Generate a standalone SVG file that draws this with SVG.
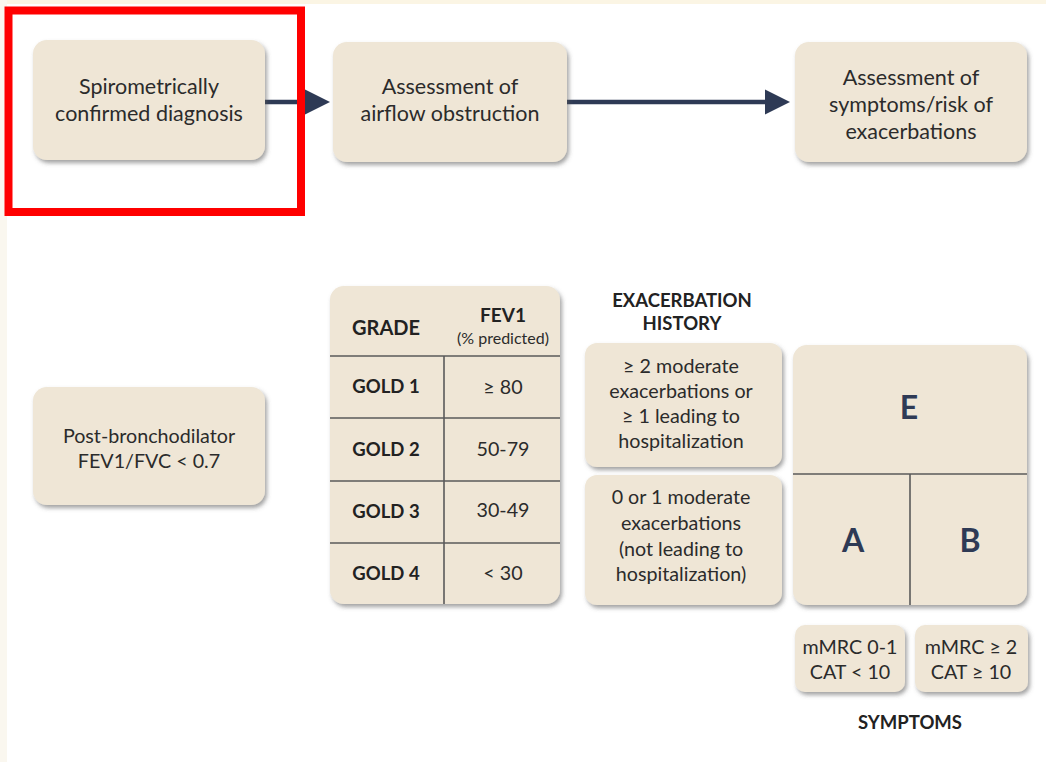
<svg xmlns="http://www.w3.org/2000/svg" width="1046" height="762" viewBox="0 0 1046 762">
<defs>
<filter id="sh" x="-10%" y="-10%" width="125%" height="130%">
<feDropShadow dx="2" dy="3" stdDeviation="2" flood-color="#555" flood-opacity="0.55"/>
</filter>
<marker id="ah" viewBox="0 0 10 10" refX="0" refY="5" markerUnits="userSpaceOnUse" markerWidth="25" markerHeight="44" orient="auto">
<path d="M0,0 L10,5 L0,10 Z" fill="#2e3a55"/>
</marker>
</defs>
<style>
.box{fill:#efe6d6;filter:url(#sh)}
.t{font-family:Lato,"Liberation Sans",sans-serif;font-size:21.5px;fill:#2b2b2b;text-anchor:middle}
.m{font-size:19.7px}
.b{font-family:Lato,"Liberation Sans",sans-serif;font-size:18.5px;font-weight:bold;fill:#222;text-anchor:middle}
.big{font-family:Lato,"Liberation Sans",sans-serif;font-size:32px;font-weight:bold;fill:#2e3a55;text-anchor:middle}
.div{stroke:#5a5a5a;stroke-width:1.6;fill:none}
.con{stroke:#2e3a55;stroke-width:4.5;fill:none}
</style>
<rect width="1046" height="762" fill="#ffffff"/>
<rect x="0" y="0" width="1046" height="4" fill="#fbf5e4"/>
<rect x="0" y="0" width="7" height="762" fill="#faf7ef"/>

<g id="connectors">
<line class="con" x1="265" y1="102" x2="305" y2="102" marker-end="url(#ah)"/>
<line class="con" x1="567" y1="102" x2="765" y2="102" marker-end="url(#ah)"/>
</g>

<g id="n1">
<rect class="box" x="33" y="40" width="232" height="120" rx="14"/>
<text class="t" x="149" y="94">Spirometrically</text>
<text class="t" x="149" y="121">confirmed diagnosis</text>
</g>
<g id="n2">
<rect class="box" x="333" y="42" width="234" height="120" rx="14"/>
<text class="t" x="450" y="94">Assessment of</text>
<text class="t" x="450" y="121">airflow obstruction</text>
</g>
<g id="n3">
<rect class="box" x="795" y="42" width="232" height="120" rx="14"/>
<text class="t" x="911" y="85">Assessment of</text>
<text class="t" x="911" y="112">symptoms/risk of</text>
<text class="t" x="911" y="139">exacerbations</text>
</g>

<g id="post">
<rect class="box" x="33" y="387" width="232" height="118" rx="14"/>
<text class="t m" x="149" y="443">Post-bronchodilator</text>
<text class="t m" x="149" y="468">FEV1/FVC &lt; 0.7</text>
</g>

<g id="table">
<rect class="box" x="330" y="286" width="230" height="318" rx="14"/>
<line class="div" x1="330" y1="356" x2="560" y2="356"/>
<line class="div" x1="330" y1="418" x2="560" y2="418"/>
<line class="div" x1="330" y1="481" x2="560" y2="481"/>
<line class="div" x1="330" y1="543" x2="560" y2="543"/>
<line class="div" x1="444" y1="356" x2="444" y2="604"/>
<text class="b" x="386" y="335" style="font-size:20px">GRADE</text>
<text class="b" x="503" y="322" style="font-size:19px">FEV1</text>
<text class="t" x="503" y="344" style="font-size:16px">(% predicted)</text>
<text class="b" x="386" y="393">GOLD 1</text>
<text class="t m" x="503" y="394">≥ 80</text>
<text class="b" x="386" y="456">GOLD 2</text>
<text class="t m" x="503" y="456">50-79</text>
<text class="b" x="386" y="518">GOLD 3</text>
<text class="t m" x="503" y="517">30-49</text>
<text class="b" x="386" y="580">GOLD 4</text>
<text class="t m" x="503" y="580">&lt; 30</text>
</g>

<g id="exhist">
<text class="b" x="682" y="307">EXACERBATION</text>
<text class="b" x="682" y="330">HISTORY</text>
</g>
<g id="ex1">
<rect class="box" x="585" y="343" width="197" height="124" rx="12"/>
<text class="t m" x="681" y="373">≥ 2 moderate</text>
<text class="t m" x="681" y="398">exacerbations or</text>
<text class="t m" x="681" y="423">≥ 1 leading to</text>
<text class="t m" x="681" y="448">hospitalization</text>
</g>
<g id="ex2">
<rect class="box" x="585" y="475" width="197" height="130" rx="12"/>
<text class="t m" x="681" y="504">0 or 1 moderate</text>
<text class="t m" x="681" y="530">exacerbations</text>
<text class="t m" x="681" y="556">(not leading to</text>
<text class="t m" x="681" y="581">hospitalization)</text>
</g>

<g id="abe">
<rect class="box" x="793" y="345" width="234" height="260" rx="14"/>
<line class="div" x1="793" y1="474" x2="1027" y2="474"/>
<line class="div" x1="910" y1="474" x2="910" y2="605"/>
<text class="big" x="909" y="419">E</text>
<text class="big" x="853" y="552">A</text>
<text class="big" x="970" y="552">B</text>
</g>

<g id="s1">
<rect class="box" x="795" y="625" width="110" height="67" rx="10"/>
<text class="t m" x="850" y="654">mMRC 0-1</text>
<text class="t m" x="850" y="679">CAT &lt; 10</text>
</g>
<g id="s2">
<rect class="box" x="915" y="625" width="113" height="67" rx="10"/>
<text class="t m" x="971" y="654">mMRC ≥ 2</text>
<text class="t m" x="971" y="679">CAT ≥ 10</text>
</g>
<text class="b" x="910" y="729">SYMPTOMS</text>

<rect x="8.5" y="10.5" width="292.5" height="201.5" fill="none" stroke="#ff0000" stroke-width="8"/>
</svg>
